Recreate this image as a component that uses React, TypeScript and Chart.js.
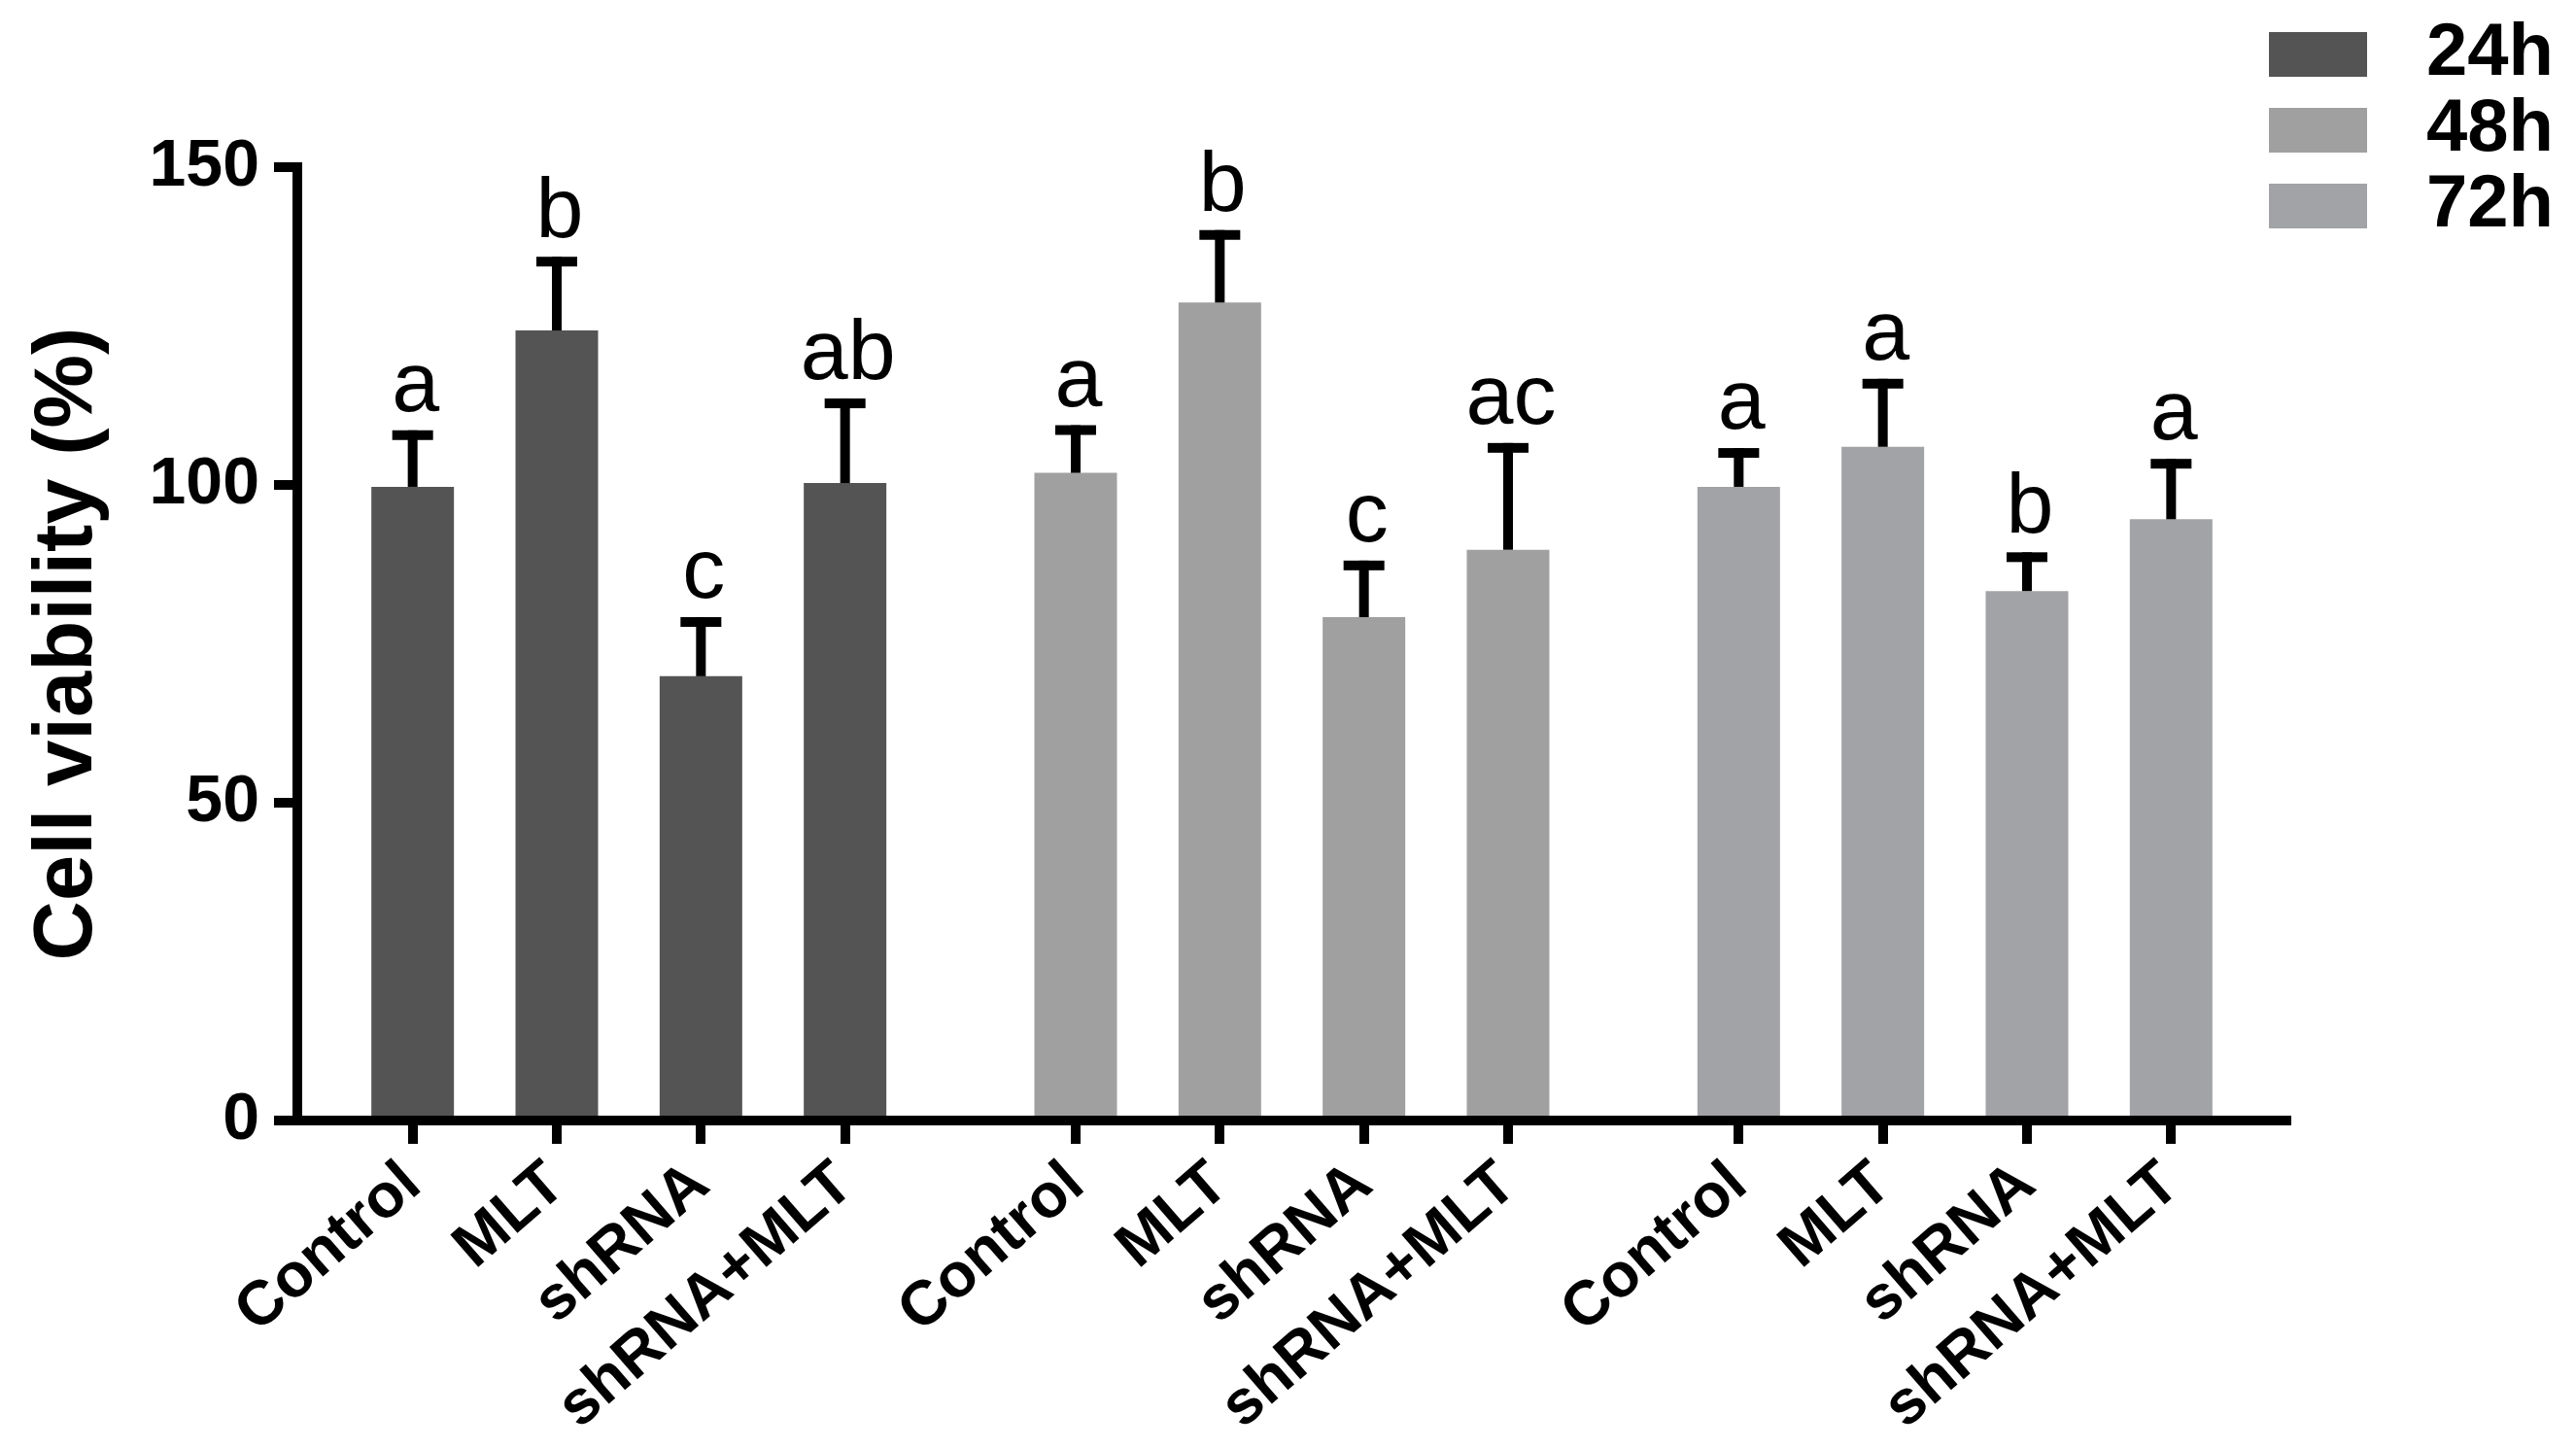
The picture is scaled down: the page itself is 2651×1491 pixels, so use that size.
import React, { useEffect, useRef } from "react";
import { Chart, registerables } from "chart.js";

Chart.register(...registerables);

// ---------- data ----------
const CATEGORIES = ["Control", "MLT", "shRNA", "shRNA+MLT"];
const SERIES_LABELS = ["24h", "48h", "72h"];
const VALUES_24H = [99.7, 124.3, 69.9, 100.3];
const VALUES_48H = [101.9, 128.7, 79.2, 89.8];
const VALUES_72H = [99.7, 106.0, 83.3, 94.6];
const ERR_24H = [8.9, 11.6, 9.3, 13.3];
const ERR_48H = [7.5, 11.4, 8.9, 16.8];
const ERR_72H = [6.1, 10.7, 6.1, 9.5];
const LETTERS_24H = ["a", "b", "c", "ab"];
const LETTERS_48H = ["a", "b", "c", "ac"];
const LETTERS_72H = ["a", "a", "b", "a"];
const Y_MIN = 0;
const Y_MAX = 150;
const Y_STEP = 50;
const Y_TITLE = "Cell viability (%)";

// ---------- styling / layout ----------
const COLORS = ["#545454", "#a0a0a0", "#a2a3a6"];
const FONT = "'Liberation Sans', Arial, Helvetica, sans-serif";
const GROUP_STRIDE = 4.6; // slot units between groups
const EDGE = 0.8;

const SERIES_VALUES = [VALUES_24H, VALUES_48H, VALUES_72H];
const SERIES_ERRORS = [ERR_24H, ERR_48H, ERR_72H];
const SERIES_LETTERS = [LETTERS_24H, LETTERS_48H, LETTERS_72H];

const pos = (g: number, i: number) => g * GROUP_STRIDE + i;
const TICK_POSITIONS: number[] = [];
const TICK_LABELS: string[] = [];
SERIES_VALUES.forEach((_, g) =>
  CATEGORIES.forEach((c, i) => {
    TICK_POSITIONS.push(pos(g, i));
    TICK_LABELS.push(c);
  })
);
const X_MIN = -EDGE;
const X_MAX = pos(SERIES_VALUES.length - 1, CATEGORIES.length - 1) + EDGE;

const errorBarPlugin = {
  id: "errorBarsLetters",
  afterDatasetsDraw(chart: any) {
    const ctx = chart.ctx;
    const yScale = chart.scales.y;
    ctx.save();
    chart.data.datasets.forEach((ds: any, di: number) => {
      const meta = chart.getDatasetMeta(di);
      meta.data.forEach((bar: any, i: number) => {
        const v = ds.data[i].y;
        const e = SERIES_ERRORS[di][i];
        const top = yScale.getPixelForValue(v + e);
        ctx.fillStyle = "#000";
        ctx.fillRect(bar.x - 5, top, 10, bar.y - top);
        ctx.fillRect(bar.x - 21, top, 42, 10);
        ctx.font = `88px ${FONT}`;
        ctx.textAlign = "center";
        ctx.textBaseline = "alphabetic";
        ctx.fillText(SERIES_LETTERS[di][i], bar.x + 3, top - 20);
      });
    });
    ctx.restore();
  },
};

const legendPlugin = {
  id: "cornerLegend",
  afterDraw(chart: any) {
    const ctx = chart.ctx;
    const area = chart.chartArea;
    ctx.save();
    chart.data.datasets.forEach((ds: any, i: number) => {
      const cy = 56 + i * 78;
      ctx.fillStyle = ds.backgroundColor;
      ctx.fillRect(area.right - 18, cy - 23, 101, 46);
      ctx.fillStyle = "#000";
      ctx.font = `bold 76px ${FONT}`;
      ctx.textAlign = "left";
      ctx.textBaseline = "middle";
      ctx.fillText(ds.label, area.right + 144, cy);
    });
    ctx.restore();
  },
};

export default function App() {
  const ref = useRef<HTMLCanvasElement>(null);

  useEffect(() => {
    if (!ref.current) return;
    Chart.defaults.font.family = FONT;
    Chart.defaults.color = "#000";
    const datasets = SERIES_VALUES.map((vals, g) => ({
      label: SERIES_LABELS[g],
      data: vals.map((v, i) => ({ x: pos(g, i), y: v })),
      backgroundColor: COLORS[g],
      borderWidth: 0,
      grouped: false,
      barPercentage: 0.573,
      categoryPercentage: 1,
    }));

    const chart = new Chart(ref.current, {
      type: "bar",
      data: { datasets },
      options: {
        animation: false,
        responsive: false,
        devicePixelRatio: 1,
        layout: { padding: { top: 172, right: 298, left: 0, bottom: 0 } },
        plugins: {
          legend: { display: false },
          tooltip: { enabled: false },
        },
        scales: {
          x: {
            type: "linear",
            min: X_MIN,
            max: X_MAX,
            offset: false,
            afterBuildTicks: (scale: any) => {
              scale.ticks = TICK_POSITIONS.map((value) => ({ value }));
            },
            afterFit: (scale: any) => {
              scale.height = 338;
            },
            grid: {
              display: true,
              drawOnChartArea: false,
              drawTicks: true,
              tickLength: 24,
              lineWidth: 10,
              color: "#000",
              offset: false,
            },
            border: { display: true, width: 10, color: "#000" },
            ticks: {
              autoSkip: false,
              minRotation: 41,
              maxRotation: 41,
              padding: 4,
              color: "#000",
              font: { size: 64, weight: "bold", family: FONT },
              callback: (_v: any, index: number) => TICK_LABELS[index],
            },
          },
          y: {
            type: "linear",
            min: Y_MIN,
            max: Y_MAX,
            afterFit: (scale: any) => {
              scale.width = 306;
            },
            grid: {
              display: true,
              drawOnChartArea: false,
              drawTicks: true,
              tickLength: 24,
              lineWidth: 10,
              color: "#000",
            },
            border: { display: true, width: 10, color: "#000" },
            ticks: {
              stepSize: Y_STEP,
              padding: 15,
              color: "#000",
              font: { size: 68, weight: "bold", family: FONT },
            },
            title: {
              display: true,
              text: Y_TITLE,
              color: "#000",
              padding: { top: 20, bottom: 0 },
              font: { size: 85, weight: "bold", family: FONT },
            },
          },
        },
      } as any,
      plugins: [errorBarPlugin, legendPlugin],
    });
    return () => chart.destroy();
  }, []);

  return (
    <div
      style={{
        position: "fixed",
        left: 0,
        top: 0,
        width: 2651,
        height: 1491,
        background: "#fff",
      }}
    >
      <canvas
        ref={ref}
        width={2651}
        height={1491}
        style={{ display: "block", width: 2651, height: 1491 }}
      />
    </div>
  );
}
